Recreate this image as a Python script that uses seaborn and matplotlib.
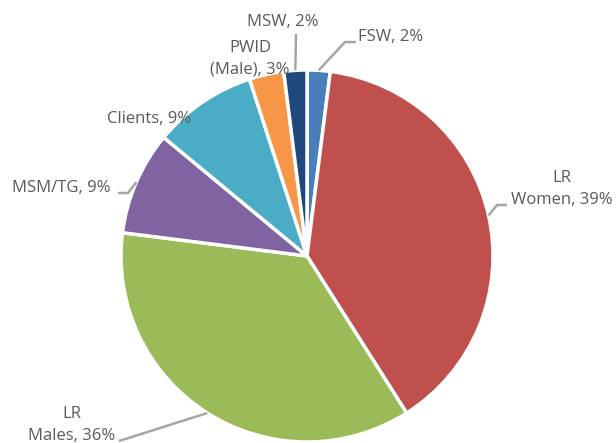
import numpy as np
import matplotlib
matplotlib.use("Agg")
import matplotlib.pyplot as plt
import seaborn as sns

# Share of new infections by population group
groups = ["FSW", "LR\nWomen", "LR\nMales", "MSM/TG", "Clients", "PWID\n(Male)", "MSW"]
shares = [2, 39, 36, 9, 9, 3, 2]
colors = ["#4A7EBB", "#C0504D", "#9BBB59", "#8064A2", "#4BACC6", "#F79646", "#1F497D"]

sns.set_theme(style="white")
plt.rcParams["font.family"] = ["Open Sans", "DejaVu Sans"]

W, H = 616, 443
fig = plt.figure(figsize=(W / 100, H / 100), dpi=100)
ax = fig.add_axes([0, 0, 1, 1])

cx, cy, r = 307, H - 256, 186
wedges, _ = ax.pie(shares, colors=colors, startangle=90, counterclock=False,
                   center=(cx, cy), radius=r, frame=True,
                   wedgeprops=dict(edgecolor="white", linewidth=2.5))
ax.set_xlim(0, W)
ax.set_ylim(0, H)
ax.set_aspect("equal")
ax.axis("off")

text_color = "#595959"
line_color = "#A6A6A6"

# label text placement (x, y in pixels from top-left), alignment, and leader elbow points
label_spec = {
    "FSW":     dict(xy=(358, 37), ha="left", path=[(345, 42), (356, 42)]),
    "LR\nWomen": dict(xy=(562, 189), ha="center", path=[(497, 205), (507, 205)]),
    "LR\nMales": dict(xy=(72, 425), ha="center", path=[(119, 441)]),
    "MSM/TG":  dict(xy=(111, 188), ha="right", path=[(128, 193), (118, 193)]),
    "Clients": dict(xy=(191, 119), ha="right", path=None),
    "PWID\n(Male)": dict(xy=(250, 59), ha="center", path=None),
    "MSW":     dict(xy=(283, 22), ha="center", path=[(296, 34)]),
}

for w, g, s in zip(wedges, groups, shares):
    spec = label_spec[g]
    tx, ty = spec["xy"]
    ax.text(tx, H - ty, f"{g}, {s}%", ha=spec["ha"], va="center",
            fontsize=12, color=text_color, linespacing=1.45)
    if spec["path"]:
        mid = np.deg2rad((w.theta1 + w.theta2) / 2)
        px = [cx + r * np.cos(mid)] + [p[0] for p in spec["path"]]
        py = [cy + r * np.sin(mid)] + [H - p[1] for p in spec["path"]]
        ax.plot(px, py, color=line_color, linewidth=1.8, solid_capstyle="butt")

fig.savefig("out.png", dpi=100)
